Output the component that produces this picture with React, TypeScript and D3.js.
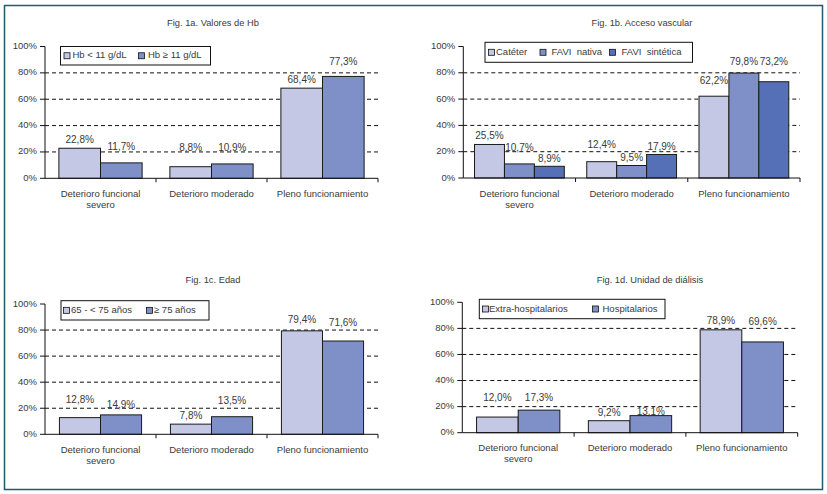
import { useEffect, useRef } from 'react';
import * as d3 from 'd3';

// Chart data
const categories = ['Deterioro funcional|severo', 'Deterioro moderado', 'Pleno funcionamiento'];
const yTicks = [0, 20, 40, 60, 80, 100];

const hbLow = [22.8, 8.8, 68.4];
const hbHigh = [11.7, 10.9, 77.3];

const cateter = [25.5, 12.4, 62.2];
const faviNativa = [10.7, 9.5, 79.8];
const faviSintetica = [8.9, 17.9, 73.2];

const edad65 = [12.8, 7.8, 79.4];
const edad75 = [14.9, 13.5, 71.6];

const extraHosp = [12.0, 9.2, 78.9];
const hosp = [17.3, 13.1, 69.6];

const LIGHT = '#c4c8e4';
const MID = '#7f90c8';
const DARK = '#5570b6';
const FONT = '"Liberation Sans", Arial, sans-serif';
const TEXT = '#3a3a3a';

interface Series {
  label: string;
  values: number[];
  color: string;
}

interface Panel {
  title: string;
  series: Series[];
  titleX: number;
  titleY: number;
  x0: number;
  x1: number;
  yBottom: number;
  yTop: number;
  groupFrac: number;
  // items: [swatch x, text x]
  legend: { x: number; y: number; w: number; h: number; items: [number, number][] };
  labelLift: number[][];
}

const panels: Panel[] = [
  {
    title: 'Fig. 1a. Valores de Hb',
    series: [
      { label: 'Hb < 11 g/dL', values: hbLow, color: LIGHT },
      { label: 'Hb ≥ 11 g/dL', values: hbHigh, color: MID },
    ],
    titleX: 213, titleY: 24,
    x0: 45, x1: 378, yBottom: 178.3, yTop: 46.5, groupFrac: 0.75,
    legend: { x: 60.5, y: 46.5, w: 150, h: 18.5, items: [[64, 72.5], [138.5, 148]] },
    labelLift: [[8, 18, 8], [16, 16, 14]],
  },
  {
    title: 'Fig. 1b. Acceso vascular',
    series: [
      { label: 'Catéter', values: cateter, color: LIGHT },
      { label: 'FAVI  nativa', values: faviNativa, color: MID },
      { label: 'FAVI  sintética', values: faviSintetica, color: DARK },
    ],
    titleX: 642, titleY: 24,
    x0: 463.3, x1: 800, yBottom: 178, yTop: 46.5, groupFrac: 0.8,
    legend: { x: 485, y: 42.3, w: 207.5, h: 20, items: [[488.5, 496], [540, 551.5], [609.5, 621.5]] },
    labelLift: [[8, 16, 15], [16, 7, 10.5], [7, 7.3, 19]],
  },
  {
    title: 'Fig. 1c. Edad',
    series: [
      { label: '65 - < 75 años', values: edad65, color: LIGHT },
      { label: '≥ 75 años', values: edad75, color: MID },
    ],
    titleX: 213, titleY: 281,
    x0: 45, x1: 378, yBottom: 434.3, yTop: 304, groupFrac: 0.74,
    legend: { x: 61, y: 300.7, w: 148, h: 19.3, items: [[63.5, 71], [146.5, 154]] },
    labelLift: [[17, 7.3, 10], [10, 15.7, 18]],
  },
  {
    title: 'Fig. 1d. Unidad de diálisis',
    series: [
      { label: 'Extra-hospitalarios', values: extraHosp, color: LIGHT },
      { label: 'Hospitalarios', values: hosp, color: MID },
    ],
    titleX: 650, titleY: 281,
    x0: 462.3, x1: 797.7, yBottom: 432.7, yTop: 302.3, groupFrac: 0.745,
    legend: { x: 479.3, y: 299.3, w: 185.7, h: 19.4, items: [[482.5, 489], [592.5, 602.5]] },
    labelLift: [[19, 7.3, 8.3], [12, 3.3, 19.3]],
  },
];

const fmt = (v: number) => v.toFixed(1).replace('.', ',') + '%';

export default function App() {
  const svgRef = useRef<SVGSVGElement>(null);

  useEffect(() => {
    if (!svgRef.current) return;
    const svg = d3.select(svgRef.current);
    svg.selectAll('*').remove();

    svg.append('rect')
      .attr('width', 827).attr('height', 494).attr('fill', 'white');

    // outer frame
    svg.append('rect')
      .attr('x', 4.5).attr('y', 5.5)
      .attr('width', 818).attr('height', 484)
      .attr('fill', 'none')
      .attr('stroke', '#1d5c6c')
      .attr('stroke-width', 1.5);

    panels.forEach(p => {
      const g = svg.append('g');

      const x = d3.scaleBand<string>().domain(categories).range([p.x0, p.x1]);
      const bw = x.bandwidth();
      const pad = (bw * (1 - p.groupFrac)) / 2;
      const xs = d3.scaleBand<number>()
        .domain(p.series.map((_, i) => i))
        .range([pad, bw - pad]);
      const y = d3.scaleLinear().domain([0, 100]).range([p.yBottom, p.yTop]);

      // title
      g.append('text')
        .attr('x', p.titleX).attr('y', p.titleY)
        .attr('text-anchor', 'middle')
        .attr('dominant-baseline', 'middle')
        .style('font-family', FONT)
        .style('font-size', '9.3px')
        .style('fill', TEXT)
        .text(p.title);

      // gridlines
      g.selectAll('.grid')
        .data(yTicks.filter(t => t > 0 && t < 100))
        .join('line')
        .attr('x1', p.x0).attr('x2', p.x1)
        .attr('y1', d => y(d)).attr('y2', d => y(d))
        .attr('stroke', '#111')
        .attr('stroke-width', 1)
        .attr('stroke-dasharray', '4,3');

      // bars
      p.series.forEach((s, si) => {
        g.selectAll(`.bar-${si}`)
          .data(s.values)
          .join('rect')
          .attr('x', (_, i) => (x(categories[i]) as number) + (xs(si) as number))
          .attr('y', d => y(d))
          .attr('width', xs.bandwidth())
          .attr('height', d => p.yBottom - y(d))
          .attr('fill', s.color)
          .attr('stroke', '#1a1a1a')
          .attr('stroke-width', 1);
      });

      // value labels
      p.series.forEach((s, si) => {
        g.selectAll(`.lbl-${si}`)
          .data(s.values)
          .join('text')
          .attr('x', (_, i) => (x(categories[i]) as number) + (xs(si) as number) + xs.bandwidth() / 2)
          .attr('y', (d, i) => y(d) - p.labelLift[si][i])
          .attr('text-anchor', 'middle')
          .attr('dominant-baseline', 'middle')
          .style('font-family', FONT)
          .style('font-size', '10px')
          .style('fill', TEXT)
          .text(d => fmt(d));
      });

      // y axis
      g.append('line')
        .attr('x1', p.x0).attr('x2', p.x0)
        .attr('y1', p.yTop).attr('y2', p.yBottom)
        .attr('stroke', '#111');
      g.selectAll('.ytick')
        .data(yTicks)
        .join('line')
        .attr('x1', p.x0 - 5).attr('x2', p.x0)
        .attr('y1', d => y(d)).attr('y2', d => y(d))
        .attr('stroke', '#111');
      g.selectAll('.ylbl')
        .data(yTicks)
        .join('text')
        .attr('x', p.x0 - 8)
        .attr('y', d => y(d))
        .attr('text-anchor', 'end')
        .attr('dominant-baseline', 'middle')
        .style('font-family', FONT)
        .style('font-size', '9.5px')
        .style('fill', TEXT)
        .text(d => `${d}%`);

      // x axis
      g.append('line')
        .attr('x1', p.x0).attr('x2', p.x1)
        .attr('y1', p.yBottom).attr('y2', p.yBottom)
        .attr('stroke', '#111');
      g.selectAll('.xtick')
        .data(categories)
        .join('line')
        .attr('x1', d => (x(d) as number) + bw).attr('x2', d => (x(d) as number) + bw)
        .attr('y1', p.yBottom).attr('y2', p.yBottom + 4)
        .attr('stroke', '#111');

      categories.forEach(c => {
        const lines = c.split('|');
        const t = g.append('text')
          .attr('text-anchor', 'middle')
          .style('font-family', FONT)
          .style('font-size', '9.5px')
          .style('fill', TEXT);
        lines.forEach((ln, li) => {
          t.append('tspan')
            .attr('x', (x(c) as number) + bw / 2)
            .attr('y', p.yBottom + 16 + li * 11)
            .attr('dominant-baseline', 'middle')
            .text(ln);
        });
      });

      // legend
      const L = p.legend;
      g.append('rect')
        .attr('x', L.x).attr('y', L.y)
        .attr('width', L.w).attr('height', L.h)
        .attr('fill', 'white')
        .attr('stroke', '#111')
        .attr('stroke-width', 1);
      p.series.forEach((s, si) => {
        const [sx, tx] = L.items[si];
        const cy = L.y + L.h / 2;
        g.append('rect')
          .attr('x', sx).attr('y', cy - 3)
          .attr('width', 6).attr('height', 6)
          .attr('fill', s.color)
          .attr('stroke', '#111')
          .attr('stroke-width', 0.8);
        g.append('text')
          .attr('x', tx).attr('y', cy)
          .attr('dominant-baseline', 'middle')
          .style('font-family', FONT)
          .style('font-size', '9.5px')
          .style('fill', TEXT)
          .style('white-space', 'pre')
          .text(s.label);
      });
    });
  }, []);

  return (
    <div style={{ position: 'absolute', left: 0, top: 0 }}>
      <svg ref={svgRef} width={827} height={494} style={{ display: 'block' }}></svg>
    </div>
  );
}
